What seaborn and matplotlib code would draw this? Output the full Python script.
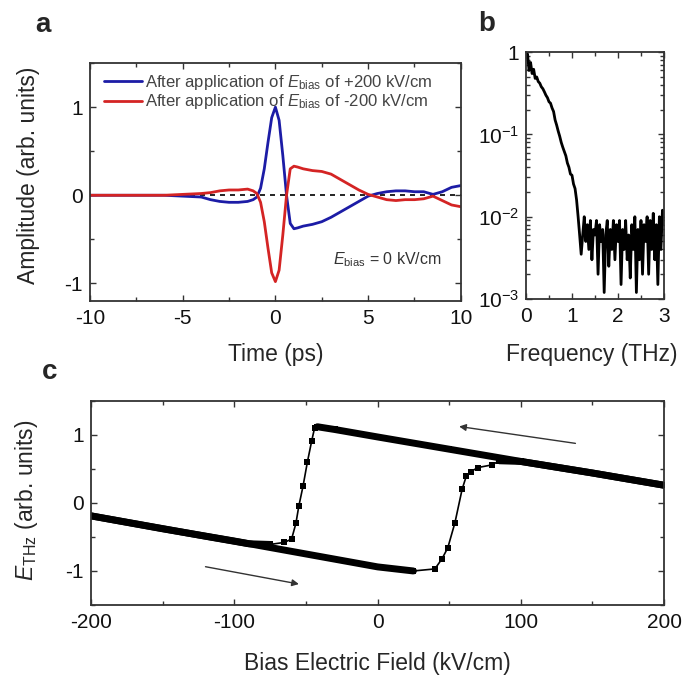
import matplotlib
matplotlib.use("Agg")
import matplotlib.pyplot as plt
from matplotlib.ticker import MultipleLocator, LogLocator, NullFormatter, FixedLocator, FixedFormatter
import numpy as np
import pandas as pd
import seaborn as sns

# ---- panel a: THz waveforms ----
time_ps = [-10, -8, -6, -5, -4, -3.5, -3, -2.5, -2, -1.5, -1.2, -1.0, -0.8, -0.6, -0.4,
           -0.2, 0, 0.2, 0.4, 0.6, 0.8, 1.0, 1.2, 1.5, 2, 2.5, 3, 3.5, 4, 4.5, 5, 5.5,
           6, 6.5, 7, 7.5, 8, 8.5, 9, 9.5, 10]
amp_pos = [0, 0, 0, -0.01, -0.02, -0.05, -0.07, -0.08, -0.08, -0.07, -0.05, -0.02, 0.08, 0.3,
           0.6, 0.88, 1.0, 0.85, 0.45, 0.0, -0.32, -0.38, -0.37, -0.35, -0.33, -0.3, -0.25,
           -0.19, -0.13, -0.07, -0.01, 0.02, 0.04, 0.05, 0.05, 0.04, 0.04, 0.01, 0.04, 0.09, 0.11]
amp_neg = [0, 0, 0, 0.01, 0.02, 0.03, 0.05, 0.06, 0.06, 0.07, 0.05, 0.02, -0.08, -0.3,
           -0.6, -0.88, -0.98, -0.85, -0.45, 0.0, 0.3, 0.33, 0.32, 0.3, 0.28, 0.27, 0.24,
           0.18, 0.12, 0.06, 0.01, -0.02, -0.05, -0.06, -0.05, -0.05, -0.04, -0.01, -0.06,
           -0.11, -0.13]

# ---- panel b: spectrum ----
freq_thz = [i / 30 for i in range(91)]
spectrum = [0.85, 0.95, 0.60, 0.75, 0.55, 0.62, 0.48, 0.50, 0.44, 0.42, 0.38, 0.36, 0.33,
            0.30, 0.28, 0.25, 0.24, 0.21, 0.19, 0.15, 0.13, 0.11, 0.095, 0.08, 0.07, 0.062,
            0.055, 0.045, 0.04, 0.033, 0.032, 0.025, 0.022, 0.016, 0.010, 0.006, 0.0035,
            0.006, 0.010, 0.005, 0.008, 0.004, 0.009, 0.003, 0.007, 0.006, 0.009, 0.002,
            0.008, 0.005, 0.007, 0.0012, 0.006, 0.009, 0.0025, 0.007, 0.004, 0.009, 0.003,
            0.008, 0.005, 0.009, 0.0015, 0.007, 0.004, 0.009, 0.003, 0.006, 0.0018, 0.008,
            0.004, 0.010, 0.0012, 0.007, 0.003, 0.009, 0.002, 0.008, 0.005, 0.010, 0.002,
            0.009, 0.004, 0.011, 0.003, 0.008, 0.0015, 0.010, 0.004, 0.012, 0.008]

# ---- panel c: hysteresis loop ----
field_down = [200, 150, 100, 50, 0, -30, -42, -44, -46, -49, -52, -55, -57, -60, -65, -75,
              -90, -120, -160, -200]
ethz_down = [0.26, 0.44, 0.61, 0.79, 0.97, 1.08, 1.12, 1.10, 0.91, 0.6, 0.25, -0.05, -0.30,
             -0.53, -0.58, -0.61, -0.60, -0.49, -0.34, -0.19]
field_up = [-200, -150, -100, -50, 0, 25, 40, 45, 49, 54, 59, 62, 65, 70, 80, 85, 100, 150, 200]
ethz_up = [-0.19, -0.38, -0.56, -0.75, -0.94, -1.0, -0.97, -0.82, -0.66, -0.29, 0.2, 0.40,
           0.46, 0.52, 0.56, 0.62, 0.61, 0.44, 0.26]

sns.set_style("ticks")
plt.rcParams['font.family'] = ['Liberation Sans', 'DejaVu Sans']
plt.rcParams['mathtext.fontset'] = 'custom'
plt.rcParams['mathtext.rm'] = 'Liberation Sans'
plt.rcParams['mathtext.it'] = 'Liberation Sans:italic'
plt.rcParams['axes.unicode_minus'] = False
plt.rcParams['axes.edgecolor'] = '#333333'
plt.rcParams['axes.linewidth'] = 1.3
plt.rcParams['xtick.direction'] = 'in'
plt.rcParams['ytick.direction'] = 'in'
plt.rcParams['xtick.top'] = True
plt.rcParams['ytick.right'] = True

fig = plt.figure(figsize=(6.88, 6.78), dpi=100)
ax_a = fig.add_axes([0.1308, 0.556, 0.539, 0.351])
ax_b = fig.add_axes([0.7645, 0.559, 0.2006, 0.364])
ax_c = fig.add_axes([0.1323, 0.1077, 0.833, 0.301])

TFS = 15   # tick labels
LFS = 16.5  # axis labels
for ax in (ax_a, ax_b, ax_c):
    ax.tick_params(which='both', labelsize=TFS, colors='#333333', labelcolor='#111111', width=1)
    ax.tick_params(which='major', length=4)
    ax.tick_params(which='minor', length=3)
    ax.tick_params(axis='x', which='both', pad=6)
    ax.tick_params(axis='y', which='both', pad=5)

# panel a
wave = pd.DataFrame({'t': time_ps, 'pos': amp_pos, 'neg': amp_neg})
ax_a.axhline(0, color='black', ls=(0, (3, 3)), lw=1.2)
sns.lineplot(data=wave, x='t', y='pos', ax=ax_a, color='#1c1ca6', lw=2,
             label=r'After application of $E_{\mathrm{bias}}$ of +200 kV/cm')
sns.lineplot(data=wave, x='t', y='neg', ax=ax_a, color='#d42424', lw=2,
             label=r'After application of $E_{\mathrm{bias}}$ of -200 kV/cm')
ax_a.set_xlim(-10, 10)
ax_a.set_ylim(-1.2, 1.5)
ax_a.xaxis.set_major_locator(MultipleLocator(5))
ax_a.xaxis.set_minor_locator(MultipleLocator(2.5))
ax_a.yaxis.set_major_locator(MultipleLocator(1))
ax_a.yaxis.set_minor_locator(MultipleLocator(0.5))
ax_a.set_xlabel('Time (ps)', fontsize=LFS)
ax_a.set_ylabel('Amplitude (arb. units)', fontsize=LFS)
ax_a.xaxis.set_label_coords(0.5, -0.176)
ax_a.yaxis.set_label_coords(-0.135, 0.53)
leg = ax_a.legend(loc='upper left', bbox_to_anchor=(0.01, 1.0), frameon=False, fontsize=12,
                  handlelength=2.3, handletextpad=0.15, borderaxespad=0.2, labelspacing=0.02)
for t in leg.get_texts():
    t.set_color('#444444')
ax_a.text(0.949, 0.172, r'$E_{\mathrm{bias}}$ = 0 kV/cm', transform=ax_a.transAxes,
          ha='right', va='center', fontsize=11.5, color='#333333')

# panel b
sns.lineplot(x=freq_thz, y=spectrum, ax=ax_b, color='black', lw=2)
ax_b.set_yscale('log')
ax_b.set_xlim(0, 3)
ax_b.set_ylim(1e-3, 1)
ax_b.xaxis.set_major_locator(MultipleLocator(1))
ax_b.xaxis.set_minor_locator(MultipleLocator(0.5))
ax_b.yaxis.set_major_locator(FixedLocator([1e-3, 1e-2, 1e-1, 1]))
ax_b.yaxis.set_major_formatter(FixedFormatter(
    [r'$10^{-3}$', r'$10^{-2}$', r'$10^{-1}$', '1']))
ax_b.yaxis.set_minor_locator(LogLocator(base=10, subs=np.arange(2, 10)))
ax_b.yaxis.set_minor_formatter(NullFormatter())
ax_b.set_xlabel('Frequency (THz)', fontsize=LFS)
ax_b.xaxis.set_label_coords(0.48, -0.178)
ax_b.set_ylabel('')

# panel c
sns.lineplot(x=field_down, y=ethz_down, ax=ax_c, sort=False, color='black', lw=1.2,
             marker='s', markersize=4, markeredgewidth=0)
sns.lineplot(x=field_up, y=ethz_up, ax=ax_c, sort=False, color='black', lw=1.2,
             marker='s', markersize=4, markeredgewidth=0)
# thick outer linear parts (dense markers in the original)
thick = dict(color='black', lw=5, solid_capstyle='round', solid_joinstyle='round')
ax_c.plot(field_down[:7], ethz_down[:7], **thick)
ax_c.plot(field_down[15:], ethz_down[15:], **thick)
ax_c.plot(field_up[:6], ethz_up[:6], **thick)
ax_c.plot(field_up[15:], ethz_up[15:], **thick)
ax_c.annotate('', xy=(55, 1.13), xytext=(140, 0.87),
              arrowprops=dict(arrowstyle='-|>', color='#333333', lw=1, mutation_scale=10))
ax_c.annotate('', xy=(-53, -1.2), xytext=(-122, -0.93),
              arrowprops=dict(arrowstyle='-|>', color='#333333', lw=1, mutation_scale=10))
ax_c.set_xlim(-200, 200)
ax_c.set_ylim(-1.5, 1.5)
ax_c.xaxis.set_major_locator(MultipleLocator(100))
ax_c.xaxis.set_minor_locator(MultipleLocator(50))
ax_c.yaxis.set_major_locator(MultipleLocator(1))
ax_c.yaxis.set_minor_locator(MultipleLocator(0.5))
ax_c.set_xlabel('Bias Electric Field (kV/cm)', fontsize=LFS)
ax_c.set_ylabel(r'$E_{\mathrm{THz}}$ (arb. units)', fontsize=LFS)
ax_c.xaxis.set_label_coords(0.5, -0.23)
ax_c.yaxis.set_label_coords(-0.089, 0.515)

fig.text(0.0625, 0.963, 'a', fontsize=20, fontweight='bold', ha='center', va='center')
fig.text(0.708, 0.965, 'b', fontsize=20, fontweight='bold', ha='center', va='center')
fig.text(0.0727, 0.451, 'c', fontsize=20, fontweight='bold', ha='center', va='center')

fig.savefig('out.png', dpi=100)
